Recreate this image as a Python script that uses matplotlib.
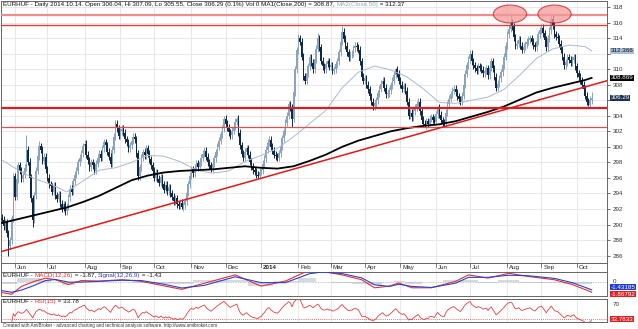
import numpy as np
import pandas as pd
import matplotlib
matplotlib.use('Agg')
import matplotlib.pyplot as plt
from matplotlib.patches import Ellipse

plt.rcParams['font.family'] = ['Liberation Sans', 'DejaVu Sans']

# --- data ----------------------------------------------------------------
dates = pd.bdate_range('2013-05-22', '2014-10-14')

closes = [
    290.6, 289.8, 290.3, 288.9, 287.3, 288.0, 290.8, 296.2, 293.6, 295.8,
    297.6, 296.9, 295.9, 296.4, 297.3, 299.6, 298.1, 296.0, 293.4, 290.6,
    293.8, 296.9, 298.8, 300.1, 299.6, 298.2, 298.7, 297.1, 296.0, 295.2,
    294.9, 294.2, 295.0, 293.8, 293.3, 293.9, 292.7, 292.1, 292.6, 291.7,
    292.3, 293.5, 294.6, 294.2, 295.6, 296.4, 296.9, 298.0, 298.6, 299.2,
    300.1, 300.4, 299.0, 298.3, 297.4, 298.0, 297.6, 296.9, 297.8, 298.5,
    299.1, 298.6, 299.8, 300.6, 300.2, 299.4, 298.7, 297.8, 299.6, 301.3,
    303.0, 302.4, 301.4, 302.0, 302.3, 301.8, 301.0, 300.6, 299.8, 300.2,
    300.8, 301.3, 301.0, 299.2, 296.2, 297.4, 298.6, 299.3, 298.9, 299.8,
    299.1, 298.4, 297.6, 296.9, 296.0, 296.7, 295.9, 295.4, 296.1, 295.2,
    294.5, 295.1, 294.3, 294.8, 294.0, 293.6, 293.0, 293.4, 292.6, 292.4,
    292.8, 292.2, 292.5, 293.0, 294.1, 295.2, 296.3, 297.1, 296.6, 297.3,
    297.9, 297.4, 298.0, 298.6, 299.1, 299.5, 298.7, 298.0, 297.6, 297.2,
    297.8, 298.5, 299.3, 300.0, 300.8, 301.6, 302.4, 303.6, 303.0, 302.5,
    301.9, 301.5, 302.1, 302.6, 303.2, 303.6, 301.8, 300.2, 299.1, 298.6,
    299.4, 299.8, 299.0, 298.1, 297.5, 297.0, 296.8, 296.4, 296.3, 296.8,
    297.0, 297.8, 298.5, 299.6, 300.5, 300.9, 300.0, 299.5, 299.0, 298.8,
    298.6, 299.2, 300.0, 301.1, 302.0, 303.1, 304.0, 305.5, 305.0, 303.6,
    307.0, 310.0, 312.4, 314.0, 313.5, 311.6, 309.1, 308.5, 309.5, 310.4,
    311.5, 310.8, 310.0, 311.3, 312.6, 314.0, 312.8, 311.1, 310.4, 310.0,
    310.6, 311.0, 310.3, 310.5, 309.8, 310.0, 310.6, 311.0, 312.2, 313.5,
    314.8, 313.9, 313.0, 312.2, 311.5, 311.9, 312.0, 312.7, 313.0, 312.8,
    312.5, 311.0, 309.0, 308.5, 308.8, 308.0, 307.4, 306.5, 305.8, 305.2,
    305.6, 306.0, 306.9, 307.5, 308.1, 308.5, 307.6, 306.8, 306.9, 307.3,
    307.9, 308.5, 309.3, 310.0, 309.4, 308.5, 308.0, 307.5, 307.8, 307.2,
    305.8, 304.0, 304.4, 303.8, 304.6, 305.0, 305.5, 305.8, 304.6, 303.5,
    303.0, 302.8, 303.3, 303.0, 303.6, 303.8, 303.5, 303.2, 304.2, 305.0,
    304.1, 303.4, 303.1, 303.0, 304.4, 305.5, 306.2, 306.8, 307.2, 307.5,
    307.0, 306.5, 306.1, 305.8, 306.6, 308.0, 309.4, 310.5, 311.3, 312.0,
    311.0, 310.5, 310.1, 309.8, 310.4, 310.2, 309.9, 309.5, 309.8, 310.1,
    309.2, 310.2, 311.0, 310.1, 309.0, 307.6, 308.1, 308.8, 309.6, 310.5,
    311.6, 313.0, 314.5, 315.2, 316.0, 315.5, 314.1, 313.0, 313.3, 313.8,
    313.0, 312.5, 312.9, 313.2, 313.5, 313.8, 314.0, 313.5, 313.1, 312.8,
    313.6, 314.5, 315.0, 315.3, 314.6, 313.8, 312.8, 314.0, 315.0, 316.5,
    315.6, 314.5, 314.2, 314.0, 313.3, 312.5, 311.6, 310.5, 310.9, 311.5,
    311.2, 310.8, 311.2, 311.5, 310.4, 309.5, 309.0, 308.5, 308.0, 307.5,
    306.6, 305.8, 305.4, 306.04, 306.29,
]
first_open = 290.9
spike_hi = {15: 301.5, 23: 300.7, 70: 303.4, 137: 304.0, 145: 303.8, 183: 314.5,
            195: 314.6, 210: 315.6, 243: 310.2, 269: 305.3, 289: 312.4, 302: 311.4,
            314: 317.2, 339: 317.2, 364: 307.09}
spike_lo = {4: 286.0, 19: 289.7, 39: 291.2, 111: 292.0, 158: 296.0, 179: 302.5,
            229: 304.7, 261: 302.5, 305: 307.2, 362: 305.3, 364: 305.55}

ma_idx = list(range(0, 361, 10)) + [364]
ma200 = [290.2, 290.7, 291.2, 291.7, 292.2, 292.9, 293.7, 294.7, 295.7, 296.3,
         296.7, 296.9, 297.0, 297.1, 297.3, 297.5, 297.3, 297.2, 297.5, 298.2,
         299.0, 300.0, 300.8, 301.4, 302.0, 302.4, 302.7, 302.9, 303.3, 303.9,
         304.5, 305.2, 306.1, 307.0, 307.6, 308.1, 308.6, 308.87]
ma50 = [298.3, 297.0, 295.9, 295.2, 294.2, 295.6, 297.0, 297.3, 298.0, 298.9,
        298.8, 298.1, 297.0, 296.6, 296.9, 298.1, 298.9, 299.8, 301.3, 303.0,
        304.7, 307.6, 309.6, 310.4, 309.9, 309.0, 307.5, 305.7, 305.6, 306.0,
        306.4, 307.4, 309.3, 311.4, 312.6, 313.1, 312.9, 312.37]

macd_idx = [0, 6, 12, 20, 27, 33, 41, 49, 60, 74, 86, 100, 111, 125, 144, 160, 175,
            190, 198, 210, 222, 230, 239, 245, 253, 265, 280, 288, 300, 313, 325,
            341, 352, 364]
macd = [-1.95, -2.27, -0.8, 0.15, 0.75, 0.45, -0.45, 0.3, 0.2, 0.45, 0.15, -0.7,
        -1.36, -0.2, 1.36, -0.76, 0.2, 2.3, 2.0, 1.36, 0.45, -1.06, -0.76, -0.15,
        -1.06, -1.06, 0.15, 1.36, 0.76, 1.66, 1.06, 0.45, -0.45, -1.87]
signal = [-1.6, -1.9, -1.5, -0.6, 0.3, 0.5, 0.0, 0.0, 0.15, 0.35, 0.3, -0.4, -1.1,
          -0.6, 1.0, -0.1, -0.1, 1.6, 1.9, 1.6, 0.8, -0.5, -0.8, -0.4, -0.8, -1.0,
          -0.2, 0.9, 0.9, 1.3, 1.2, 0.7, -0.1, -1.43]

levels = [317.0, 315.65, 305.05, 302.5]
level_w = [1.6, 1.0, 1.6, 0.9]
level_c = ['#f08c8c', '#d84040', '#d82020', '#e05050']
trend_pts = [(0, 286.55), (364, 307.95)]
tops = [(313.6, 317.1), (341.1, 317.1)]

# --- derived ---------------------------------------------------------------
x = np.arange(len(closes))
c = np.array(closes)
o = np.concatenate([[first_open], c[:-1]])
hi = np.maximum(o, c) + 0.45
lo = np.minimum(o, c) - 0.45
for k, v in spike_hi.items():
    hi[k] = v
for k, v in spike_lo.items():
    lo[k] = v

s = pd.Series(c)
d = s.diff()
g = d.clip(lower=0).ewm(alpha=1 / 15, adjust=False).mean()
l = (-d.clip(upper=0)).ewm(alpha=1 / 15, adjust=False).mean()
rsi = (100 - 100 / (1 + g / l)).values
rsi[:4] = np.nan

month_pos = [i for i in range(1, len(dates)) if dates[i].month != dates[i - 1].month]
month_lab = ['2014' if dates[i].month == 1 else dates[i].strftime('%b') for i in month_pos]

W, H = 638, 329
fig = plt.figure(figsize=(W / 100, H / 100), dpi=100)
fig.patch.set_facecolor('white')
L, R = 1 / W, 607 / W
ax = fig.add_axes([L, 1 - 263 / H, R - L, 262 / H])
axd = fig.add_axes([L, 1 - 272 / H, R - L, 9 / H])
axm = fig.add_axes([L, 1 - 296 / H, R - L, 24 / H])
axr = fig.add_axes([L, 1 - 322 / H, R - L, 23.5 / H])

XL = (-0.6, 373.5)
grid_c = '#e4e4e4'
fs = 4.5

for a in (ax, axd, axm, axr):
    a.set_xlim(*XL)
    for sp in a.spines.values():
        sp.set_color('#666666')
        sp.set_linewidth(0.7)
    a.set_xticks([])
    for m in month_pos:
        a.axvline(m, color=grid_c, lw=0.6, zorder=0)

# main price panel
ax.set_ylim(285.05, 318.77)
yt = np.arange(286, 319, 2)
for v in yt:
    ax.axhline(v, color=grid_c, lw=0.6, zorder=0)
ax.yaxis.tick_right()
ax.set_yticks(yt)
# 306 and 312 sit under the value boxes, as in the original
ax.set_yticklabels(['' if v in (306, 312) else str(v) for v in yt])
ax.tick_params(axis='y', labelsize=fs, length=2, width=0.5, pad=2, colors='#333333')

up_c, dn_c = '#8aa3be', '#0f2747'
up = c >= o
for mask, col in ((up, up_c), (~up, dn_c)):
    ax.vlines(x[mask], lo[mask], hi[mask], color=col, lw=0.7, zorder=3)
    ax.bar(x[mask], (c - o)[mask], bottom=o[mask], width=0.95, color=col, lw=0, zorder=3)

ax.plot(ma_idx, ma50, color='#a9bace', lw=0.7, zorder=4)
ax.plot(ma_idx, ma200, color='#000000', lw=1.3, zorder=4)

for v, w, col in zip(levels, level_w, level_c):
    ax.axhline(v, color=col, lw=w, zorder=5)
ax.axline(trend_pts[0], trend_pts[1], color='#e01818', lw=1.1, zorder=5)
for cx, cy in tops:
    ax.add_patch(Ellipse((cx, cy), 20.5, 2.3, facecolor='#f29a9a', alpha=0.75,
                         edgecolor='#d01818', lw=0.8, zorder=6))

t1 = ax.text(0.003, 0.997, 'EURHUF - Daily 2014.10.14. Open 306.04, Hi 307.09, Lo 305.55, '
             'Close 306.29 (0.1%) Vol 0 MA1(Close,200) = 308.87, ',
             transform=ax.transAxes, fontsize=fs, va='top', ha='left', color='#111111', zorder=8)
t2 = ax.annotate('MA2(Close,50)', xy=(1, 0), xycoords=t1, va='bottom', ha='left',
                 fontsize=fs, color='#8fa6c0', zorder=8)
ax.annotate(' = 312.37', xy=(1, 0), xycoords=t2, va='bottom', ha='left',
            fontsize=fs, color='#111111', zorder=8)


def tag(a, val, txt, fc, tc):
    a.annotate(txt, xy=(1.0, val), xycoords=('axes fraction', 'data'), xytext=(2.5, 0),
               textcoords='offset points', va='center', ha='left', fontsize=fs, color=tc,
               bbox=dict(boxstyle='square,pad=0.08', fc=fc, ec='none'), annotation_clip=False)


tag(ax, 312.37, '312.366', '#a9bfd6', '#111111')
tag(ax, 308.87, '308.869', '#000000', 'white')
tag(ax, 306.29, '306.29', '#1c3350', 'white')

# date row
axd.set_ylim(0, 1)
axd.set_yticks([])
for m, lab in zip(month_pos, month_lab):
    axd.plot([m, m], [0.55, 0.95], color='#555555', lw=0.5)
    axd.text(m + 1.2, 0.45, lab, fontsize=fs, va='center', ha='left', color='#222222',
             fontweight='bold' if lab == '2014' else 'normal')

# MACD panel
axm.set_ylim(-2.6, 1.9)
hist = np.array(macd) - np.array(signal)
axm.fill_between(macd_idx, hist, 0, step='mid', color='#b8c2cc', alpha=0.6, lw=0, zorder=1)
axm.axhline(0, color='#aab4be', lw=0.6, ls=(0, (1, 1)), zorder=1)
axm.plot(macd_idx, macd, color='#e33030', lw=0.8, zorder=3)
axm.plot(macd_idx, signal, color='#2d3fd3', lw=0.8, zorder=3)
axm.yaxis.tick_right()
axm.set_yticks([0.25])
axm.set_yticklabels(['0'])
axm.tick_params(axis='y', labelsize=fs, length=0, pad=4, colors='#333333')
mt = axm.text(0.003, 0.97, 'EURHUF - ', transform=axm.transAxes, fontsize=fs,
              va='top', ha='left', color='#111111')
mt = axm.annotate('MACD(12,26)', xy=(1, 0), xycoords=mt, va='bottom', fontsize=fs, color='#e33030')
mt = axm.annotate(' = -1.87, ', xy=(1, 0), xycoords=mt, va='bottom', fontsize=fs, color='#111111')
mt = axm.annotate('Signal(12,26,9)', xy=(1, 0), xycoords=mt, va='bottom', fontsize=fs, color='#2d3fd3')
axm.annotate(' = -1.43', xy=(1, 0), xycoords=mt, va='bottom', fontsize=fs, color='#111111')
tag(axm, -0.95, '-1.43185', '#1f3fd0', 'white')
tag(axm, -2.25, '-1.86792', '#e02020', 'white')

# RSI panel
axr.set_ylim(27, 82)
axr.plot(x, rsi, color='#e04040', lw=0.6, zorder=3)
axr.axhline(33.78, color='#e04040', lw=0.6, ls=(0, (1, 1.5)), zorder=2)
axr.yaxis.tick_right()
axr.set_yticks([70])
axr.set_yticklabels(['70'])
axr.tick_params(axis='y', labelsize=fs, length=0, pad=4, colors='#333333')
rt = axr.text(0.003, 0.97, 'EURHUF - ', transform=axr.transAxes, fontsize=fs,
              va='top', ha='left', color='#111111')
rt = axr.annotate('RSI(15)', xy=(1, 0), xycoords=rt, va='bottom', fontsize=fs, color='#e33030')
axr.annotate(' = 33.78', xy=(1, 0), xycoords=rt, va='bottom', fontsize=fs, color='#111111')
tag(axr, 33.78, '33.7833', '#e02020', 'white')

fig.text(0.004, 0.004, 'Created with AmiBroker - advanced charting and technical analysis software. '
         'http://www.amibroker.com', fontsize=3.3, color='#333333', va='bottom', ha='left')

fig.savefig('out.png', dpi=100)
